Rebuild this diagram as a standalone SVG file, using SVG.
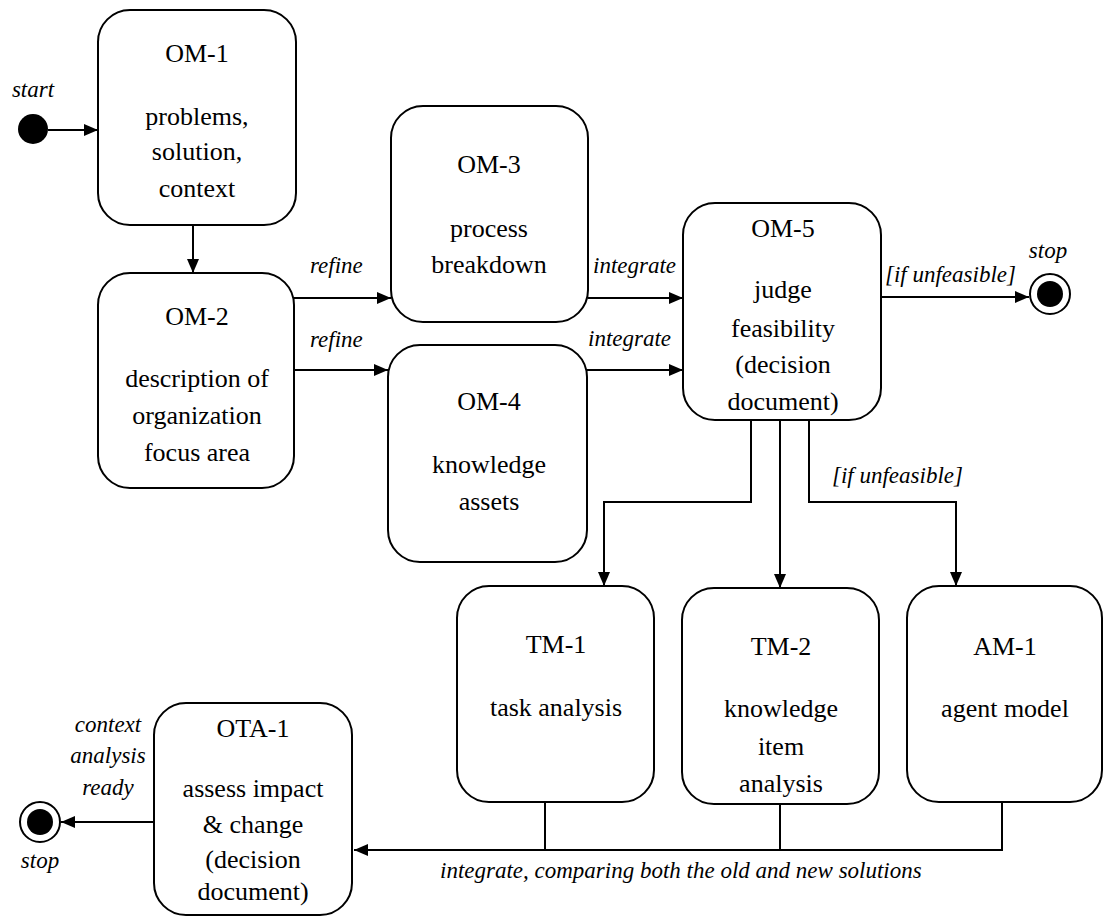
<svg xmlns="http://www.w3.org/2000/svg" width="1103" height="919" viewBox="0 0 1103 919">
  <style>
    .box { fill: #fff; stroke: #000; stroke-width: 2; }
    .t { font-size: 26px; text-anchor: middle; fill: #000; }
    .lbl { font-size: 23px; font-style: italic; fill: #000; }
    .c { text-anchor: middle; }
    .edge { fill: none; stroke: #000; stroke-width: 2; }
  </style>
  <defs>
    <marker id="arrow" viewBox="0 0 14 12" refX="14" refY="6" markerWidth="14" markerHeight="12" markerUnits="userSpaceOnUse" orient="auto">
      <path d="M0,0 L14,6 L0,12 Z" fill="#000"/>
    </marker>
  </defs>
  <rect width="1103" height="919" fill="#fff"/>

  <g font-family="Liberation Serif, serif">
  <!-- connectors -->
  <g id="connectors">
    <line class="edge" x1="48" y1="130" x2="98" y2="130" marker-end="url(#arrow)"/>
    <line class="edge" x1="193" y1="225" x2="193" y2="273" marker-end="url(#arrow)"/>
    <line class="edge" x1="294" y1="298" x2="391" y2="298" marker-end="url(#arrow)"/>
    <line class="edge" x1="294" y1="370" x2="388" y2="370" marker-end="url(#arrow)"/>
    <line class="edge" x1="588" y1="298" x2="683" y2="298" marker-end="url(#arrow)"/>
    <line class="edge" x1="587" y1="370" x2="683" y2="370" marker-end="url(#arrow)"/>
    <line class="edge" x1="881" y1="297" x2="1029" y2="297" marker-end="url(#arrow)"/>
    <polyline class="edge" points="751,420 751,502 604,502 604,586" marker-end="url(#arrow)"/>
    <line class="edge" x1="780" y1="420" x2="780" y2="588" marker-end="url(#arrow)"/>
    <polyline class="edge" points="809,420 809,502 956,502 956,586" marker-end="url(#arrow)"/>
    <polyline class="edge" points="545,802 545,850"/>
    <polyline class="edge" points="780,804 780,850"/>
    <polyline class="edge" points="1002,802 1002,850 354,850" marker-end="url(#arrow)"/>
    <line class="edge" x1="154" y1="822" x2="61" y2="822" marker-end="url(#arrow)"/>

    <text class="lbl" x="310" y="273">refine</text>
    <text class="lbl" x="310" y="347">refine</text>
    <text class="lbl" x="593" y="273">integrate</text>
    <text class="lbl" x="588" y="346">integrate</text>
    <text class="lbl" x="885" y="282">[if unfeasible]</text>
    <text class="lbl" x="832" y="483">[if unfeasible]</text>
    <text class="lbl" x="440" y="878">integrate, comparing both the old and new solutions</text>
    <text class="lbl c" x="108" y="732">context</text>
    <text class="lbl c" x="108" y="763">analysis</text>
    <text class="lbl c" x="108" y="795">ready</text>
  </g>

  <!-- initial state -->
  <g id="start">
    <circle cx="33" cy="129" r="15" fill="#000"/>
    <text class="lbl c" x="33" y="97">start</text>
  </g>

  <!-- final state, top -->
  <g id="stop-top">
    <circle cx="1050" cy="294" r="20" fill="#fff" stroke="#000" stroke-width="2"/>
    <circle cx="1050" cy="294" r="13" fill="#000"/>
    <text class="lbl c" x="1048" y="258">stop</text>
  </g>

  <!-- final state, bottom -->
  <g id="stop-bottom">
    <circle cx="40" cy="822" r="20" fill="#fff" stroke="#000" stroke-width="2"/>
    <circle cx="40" cy="822" r="13" fill="#000"/>
    <text class="lbl c" x="40" y="868">stop</text>
  </g>

  <g id="om1">
    <rect class="box" x="98" y="10" width="198" height="215" rx="32"/>
    <text class="t" x="197" y="62">OM-1</text>
    <text class="t" x="197" y="125">problems,</text>
    <text class="t" x="197" y="160">solution,</text>
    <text class="t" x="197" y="197">context</text>
  </g>

  <g id="om2">
    <rect class="box" x="98" y="273" width="196" height="215" rx="32"/>
    <text class="t" x="197" y="325">OM-2</text>
    <text class="t" x="197" y="387">description of</text>
    <text class="t" x="197" y="424">organization</text>
    <text class="t" x="197" y="461">focus area</text>
  </g>

  <g id="om3">
    <rect class="box" x="391" y="106" width="197" height="216" rx="32"/>
    <text class="t" x="489" y="173">OM-3</text>
    <text class="t" x="489" y="237">process</text>
    <text class="t" x="489" y="273">breakdown</text>
  </g>

  <g id="om4">
    <rect class="box" x="388" y="345" width="199" height="217" rx="32"/>
    <text class="t" x="489" y="410">OM-4</text>
    <text class="t" x="489" y="473">knowledge</text>
    <text class="t" x="489" y="510">assets</text>
  </g>

  <g id="om5">
    <rect class="box" x="683" y="203" width="198" height="217" rx="32"/>
    <text class="t" x="783" y="237">OM-5</text>
    <text class="t" x="783" y="298">judge</text>
    <text class="t" x="783" y="337">feasibility</text>
    <text class="t" x="783" y="373">(decision</text>
    <text class="t" x="783" y="410">document)</text>
  </g>

  <g id="tm1">
    <rect class="box" x="457" y="586" width="197" height="216" rx="32"/>
    <text class="t" x="556" y="653">TM-1</text>
    <text class="t" x="556" y="716">task analysis</text>
  </g>

  <g id="tm2">
    <rect class="box" x="682" y="588" width="197" height="216" rx="32"/>
    <text class="t" x="781" y="655">TM-2</text>
    <text class="t" x="781" y="717">knowledge</text>
    <text class="t" x="781" y="755">item</text>
    <text class="t" x="781" y="792">analysis</text>
  </g>

  <g id="am1">
    <rect class="box" x="907" y="586" width="195" height="216" rx="32"/>
    <text class="t" x="1005" y="655">AM-1</text>
    <text class="t" x="1005" y="717">agent model</text>
  </g>

  <g id="ota1">
    <rect class="box" x="154" y="703" width="198" height="212" rx="32"/>
    <text class="t" x="253" y="737">OTA-1</text>
    <text class="t" x="253" y="797">assess impact</text>
    <text class="t" x="253" y="833">&amp; change</text>
    <text class="t" x="253" y="868">(decision</text>
    <text class="t" x="253" y="900">document)</text>
  </g>
  </g>
</svg>
